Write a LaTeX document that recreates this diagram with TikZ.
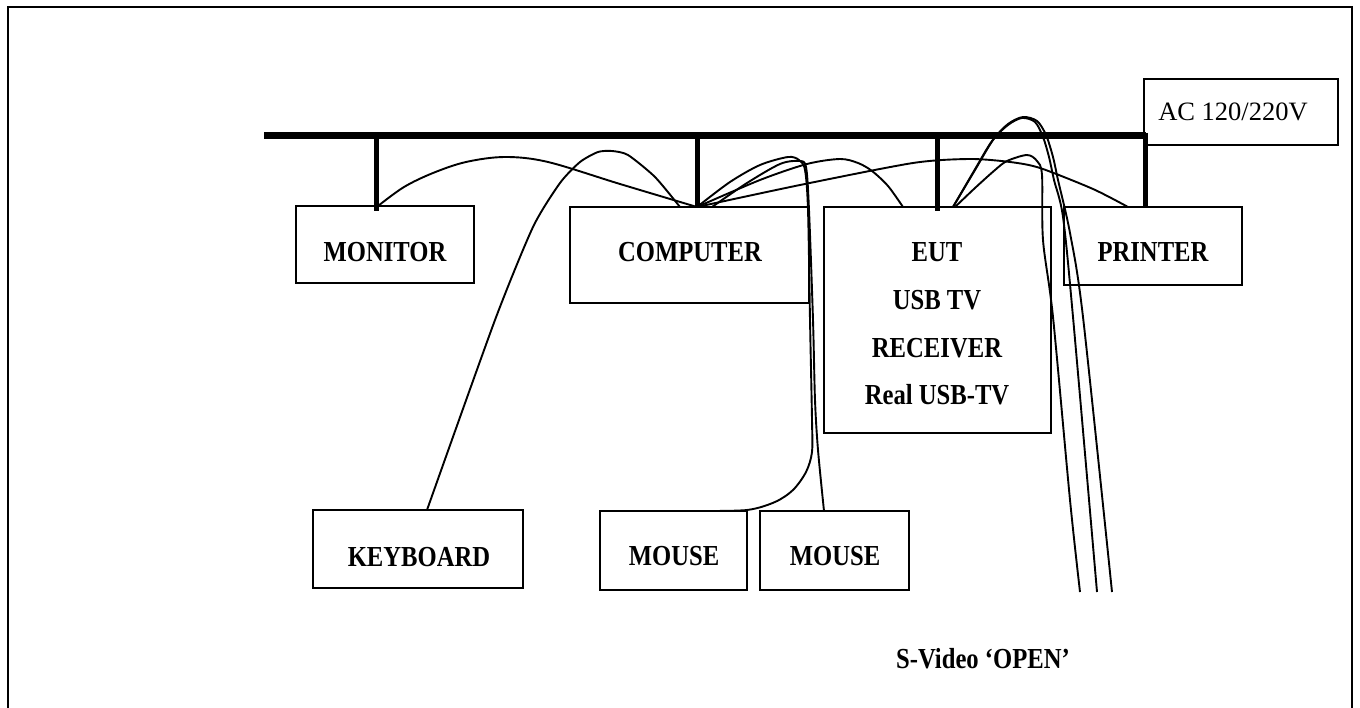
\documentclass[tikz,border=0pt]{standalone}
\usepackage{fontspec}
\setmainfont{Liberation Serif}
\newcommand{\bt}[1]{\scalebox{0.85}[1]{\fontsize{29}{34}\selectfont\bfseries #1}}
\begin{document}
\begin{tikzpicture}[x=1pt,y=-1pt,
  box/.style={draw, line width=1.8pt, inner sep=0pt, outer sep=0pt},
  lbl/.style={inner sep=0pt, anchor=center},
  bus/.style={line width=7pt},
  drop/.style={line width=5pt},
  cable/.style={line width=1.9pt, line join=round},
  frame/.style={line width=2.4pt}]
\useasboundingbox (0,0) rectangle (1360,708);
% outer frame
\coordinate (f1) at (8,712);
\coordinate (f2) at (8,7);
\coordinate (f3) at (1352,7);
\coordinate (f4) at (1352,712);
\draw[frame] (f1) -- (f2) -- (f3) -- (f4);

% boxes
\node[box, minimum width=178, minimum height=77] (mon) at (385,244.5) {};
\node[box, minimum width=239, minimum height=96] (comp) at (689.5,255) {};
\node[box, minimum width=227, minimum height=226] (eut) at (937.5,320) {};
\node[box, minimum width=178, minimum height=78] (prn) at (1153,246) {};
\node[box, minimum width=210, minimum height=78] (kbd) at (418,549) {};
\node[box, minimum width=147, minimum height=79] (ms1) at (673.5,550.5) {};
\node[box, minimum width=149, minimum height=79] (ms2) at (834.5,550.5) {};
\node[box, minimum width=194, minimum height=66] (ac) at (1241,112) {};

% labels
\node[lbl] (monT) at (385,252) {\bt{MONITOR}};
\node[lbl] (compT) at (690,252) {\bt{COMPUTER}};
\node[lbl] (eutT1) at (937,252) {\bt{EUT}};
\node[lbl] (eutT2) at (937,300) {\bt{USB TV}};
\node[lbl] (eutT3) at (937,348) {\bt{RECEIVER}};
\node[lbl] (eutT4) at (937,395) {\bt{Real USB-TV}};
\node[lbl] (prnT) at (1153,252) {\bt{PRINTER}};
\node[lbl] (kbdT) at (419,557) {\bt{KEYBOARD}};
\node[lbl] (ms1T) at (674,556) {\bt{MOUSE}};
\node[lbl] (ms2T) at (835,556) {\bt{MOUSE}};
\node[lbl] (acT) at (1233,112) {\fontsize{26.5}{30}\selectfont AC 120/220V};
\node[lbl] (svT) at (983,659) {\bt{S-Video ‘OPEN’}};

% power bus
\coordinate (busL) at (264,136);
\coordinate (busR) at (1146,136);
\draw[bus] (busL) -- (busR);
\coordinate (dMonT) at (376,136); \coordinate (dMonB) at (376,211);
\coordinate (dCompT) at (697,136); \coordinate (dCompB) at (697,208);
\coordinate (dEutT) at (937,136); \coordinate (dEutB) at (937,211);
\coordinate (dPrnT) at (1145,133); \coordinate (dPrnB) at (1145,207);
\draw[drop] (dMonT) -- (dMonB);
\draw[drop] (dCompT) -- (dCompB);
\draw[drop] (dEutT) -- (dEutB);
\draw[drop] (dPrnT) -- (dPrnB);

% cable end points
\coordinate (pMon) at (378,206);
\coordinate (pComp) at (697,207);
\coordinate (pComp2) at (712,207);
\coordinate (pCompK) at (680,207);
\coordinate (pKbd) at (427,510);
\coordinate (pMs1) at (697,511);
\coordinate (pMs2) at (824,511);
\coordinate (pEutC) at (903,207);
\coordinate (pEut) at (953,207);
\coordinate (pEut2) at (955,207);
\coordinate (pPrn) at (1128,207);
\coordinate (sv1) at (1080,592);
\coordinate (sv2) at (1097,592);
\coordinate (sv3) at (1112,592);

% monitor - computer
\draw[cable] plot[smooth, tension=0.55] coordinates {(pMon) (404,187) (433,173) (466,162) (505,157) (548,162) (620,184) (pComp)};
% keyboard - computer
\draw[cable] plot[smooth, tension=0.4] coordinates {(pKbd) (495,320) (533,227) (560,183) (580,162) (598,152) (612,151) (628,155) (655,177) (pCompK)};
% mouse 1 - computer
\draw[cable] plot[smooth, tension=0.5] coordinates {(pComp) (730,182) (760,165) (788,157) (799,160) (805,170) (808,210) (810,320) (812,420) (812,452) (806,472) (793,490) (775,502) (747,510) (pMs1)};
% mouse 2 - computer
\draw[cable] plot[smooth, tension=0.5] coordinates {(pComp2) (747,183) (780,164) (799,161) (806,167) (809,210) (813,320) (815,400) (818,450) (pMs2)};
% computer - EUT
\draw[cable] plot[smooth, tension=0.5] coordinates {(pComp) (760,180) (807,164) (840,159) (858,163) (872,171) (888,186) (pEutC)};
% computer - printer
\draw[cable] plot[smooth, tension=0.45] coordinates {(pComp) (800,185) (913,163) (970,159) (1010,162) (1040,168) (1093,189) (pPrn)};
% EUT - S-Video
\draw[cable] plot[smooth, tension=0.5] coordinates {(pEut) (975,170) (993,140) (1008,124) (1023,117) (1037,121) (1046,135) (1053,157) (1058,180) (1070,233) (1083,317) (sv3)};
\draw[cable] plot[smooth, tension=0.5] coordinates {(pEut) (974,171) (992,141) (1008,125) (1022,118) (1035,122) (1043,137) (1049,157) (1054,180) (1063,217) (1073,317) (sv2)};
\draw[cable] plot[smooth, tension=0.5] coordinates {(pEut2) (975,188) (995,170) (1007,161) (1027,155) (1037,161) (1042,175) (1043,240) (1053,317) (1070,500) (sv1)};
\end{tikzpicture}
\end{document}
